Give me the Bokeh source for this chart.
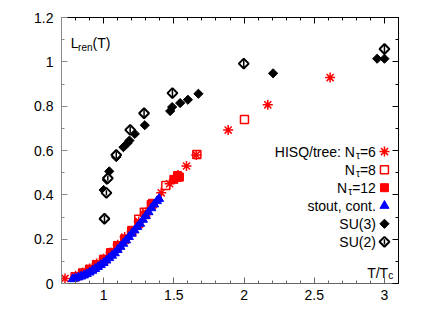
import math
from bokeh.plotting import figure
from bokeh.models import FixedTicker, LinearAxis, Range1d, Label
from bokeh.embed import file_html
from bokeh.resources import INLINE

# ---------------- data ----------------
x_ticks = [1, 1.5, 2, 2.5, 3]
x_tick_labels = ["1", "1.5", "2", "2.5", "3"]
y_ticks = [0, 0.2, 0.4, 0.6, 0.8, 1.0, 1.2]
y_tick_labels = ["0", "0.2", "0.4", "0.6", "0.8", "1", "1.2"]

# HISQ/tree Nt=6 (stars)
hisq6_x = [0.725, 0.80, 0.85, 0.90, 0.95, 1.00, 1.05, 1.10, 1.15, 1.20, 1.25, 1.30, 1.35,
           1.41, 1.47, 1.53, 1.59, 1.66, 1.887, 2.169, 2.613]
hisq6_y = [0.023, 0.035, 0.050, 0.068, 0.090, 0.112, 0.140, 0.175, 0.210, 0.235, 0.280, 0.320, 0.355,
           0.409, 0.450, 0.490, 0.530, 0.580, 0.692, 0.806, 0.929]
# HISQ/tree Nt=8 (open squares)
hisq8_x = [0.797, 0.85, 0.90, 0.95, 1.00, 1.05, 1.10, 1.15, 1.20, 1.25, 1.29, 1.34, 1.443, 1.53, 1.664, 2.003]
hisq8_y = [0.030, 0.045, 0.062, 0.085, 0.105, 0.135, 0.170, 0.200, 0.235, 0.290, 0.321, 0.355, 0.442, 0.480, 0.582, 0.740]
# HISQ/tree Nt=12 (filled squares)
hisq12_x = [0.85, 0.90, 0.95, 1.00, 1.05, 1.10, 1.15, 1.20, 1.25, 1.30, 1.348, 1.50, 1.526, 1.54]
hisq12_y = [0.048, 0.065, 0.085, 0.110, 0.140, 0.170, 0.200, 0.240, 0.270, 0.310, 0.362, 0.470, 0.487, 0.480]
# stout, continuum (triangles)
stout_x = [0.78, 0.80, 0.82, 0.84, 0.86, 0.88, 0.90, 0.92, 0.94, 0.96, 0.98, 1.00, 1.02, 1.04, 1.06, 1.08,
           1.10, 1.12, 1.14, 1.16, 1.18, 1.20, 1.22, 1.24, 1.26, 1.28, 1.30, 1.32, 1.34, 1.36, 1.38, 1.395]
stout_y = [0.020, 0.024, 0.028, 0.032, 0.037, 0.043, 0.050, 0.058, 0.066, 0.075, 0.084, 0.093, 0.104, 0.115,
           0.126, 0.137, 0.152, 0.166, 0.180, 0.195, 0.210, 0.225, 0.240, 0.255, 0.270, 0.288, 0.305, 0.322,
           0.340, 0.357, 0.372, 0.382]
# SU(3) (filled diamonds)
su3_x = [1.00, 1.023, 1.04, 1.09, 1.141, 1.17, 1.184, 1.222, 1.293, 1.474, 1.488, 1.545, 1.60, 1.675,
         2.207, 2.948, 3.00]
su3_y = [0.422, 0.467, 0.506, 0.570, 0.615, 0.633, 0.645, 0.675, 0.714, 0.778, 0.796, 0.814, 0.829, 0.856,
         0.948, 1.014, 1.014]
su3_err = [0.010] * len(su3_x)
# SU(2) (open diamonds)
su2_x = [1.006, 1.02, 1.03, 1.09, 1.189, 1.288, 1.49, 1.998, 3.00]
su2_y = [0.292, 0.409, 0.475, 0.580, 0.693, 0.768, 0.859, 0.992, 1.058]
su2_err = [0.015, 0.012, 0.012, 0.015, 0.015, 0.018, 0.020, 0.018, 0.018]

legend_labels = [("HISQ/tree: N", "\u03c4", "=6"), ("N", "\u03c4", "=8"), ("N", "\u03c4", "=12"),
                 ("stout, cont.",), ("SU(3)",), ("SU(2)",)]

# ---------------- figure ----------------
FONT = "Liberation Sans"
FS = 14
ROT = math.pi / 4

p = figure(width=417, height=305, output_backend="svg", toolbar_location=None,
           x_range=Range1d(0.7, 3.1), y_range=Range1d(0, 1.2),
           min_border_left=61, min_border_right=19, min_border_top=17, min_border_bottom=22)
p.xgrid.visible = False
p.ygrid.visible = False
p.outline_line_color = None
p.background_fill_color = "white"
p.border_fill_color = "white"

x_minor = [round(0.7 + 0.1 * i, 1) for i in range(25)]
y_minor = [round(0.1 * i, 1) for i in range(13)]


def style_axis(ax, color, labels):
    ax.axis_line_color = color
    ax.axis_line_width = 1
    ax.major_tick_line_color = color
    ax.minor_tick_line_color = color
    ax.major_tick_in = 6
    ax.major_tick_out = 0
    ax.minor_tick_in = 3
    ax.minor_tick_out = 0
    if not labels:
        ax.major_label_text_font_size = "0px"
        ax.major_label_text_color = None
        ax.major_label_standoff = 0
    else:
        ax.major_label_text_font = FONT
        ax.major_label_text_font_size = f"{FS}px"
        ax.major_label_text_color = "black"


p.xaxis[0].ticker = FixedTicker(ticks=x_ticks, minor_ticks=x_minor)
p.yaxis[0].ticker = FixedTicker(ticks=y_ticks, minor_ticks=y_minor)
p.xaxis[0].major_label_overrides = {t: s for t, s in zip(x_ticks, x_tick_labels)}
p.yaxis[0].major_label_overrides = {t: s for t, s in zip(y_ticks, y_tick_labels)}
style_axis(p.xaxis[0], "#666666", True)
style_axis(p.yaxis[0], "#8a8a8a", True)
p.xaxis[0].major_label_standoff = 6
p.yaxis[0].major_label_standoff = 8

top = LinearAxis(ticker=FixedTicker(ticks=x_ticks, minor_ticks=x_minor))
style_axis(top, "black", False)
p.add_layout(top, "above")
right = LinearAxis(ticker=FixedTicker(ticks=y_ticks, minor_ticks=y_minor))
style_axis(right, "black", False)
p.add_layout(right, "right")

RED = "#ff0000"
BLUE = "#0000ff"

# error bars
p.segment(x0=su3_x, x1=su3_x, y0=[y - e for y, e in zip(su3_y, su3_err)],
          y1=[y + e for y, e in zip(su3_y, su3_err)], line_color="black", line_width=1.5)

# series
p.scatter(hisq8_x, hisq8_y, marker="square", size=8, fill_color=None, line_color=RED, line_width=1.5)
p.scatter(hisq12_x, hisq12_y, marker="square", size=8, fill_color=RED, line_color=RED)
p.scatter(hisq6_x, hisq6_y, marker="asterisk", size=10, line_color=RED, line_width=1.5)
p.scatter(stout_x, stout_y, marker="triangle", size=9, fill_color=BLUE, line_color=BLUE)
p.scatter(su3_x, su3_y, marker="square", angle=ROT, size=6.5, fill_color="black", line_color="black")
p.scatter(su2_x, su2_y, marker="square", angle=ROT, size=7, fill_color="white", line_color="black",
          line_width=2)
p.segment(x0=su2_x, x1=su2_x, y0=[y - e for y, e in zip(su2_y, su2_err)],
          y1=[y + e for y, e in zip(su2_y, su2_err)], line_color="black", line_width=1.5)

# ---------------- text helpers ----------------
W = {"=": 0.584, "6": 0.556, "8": 0.556, "1": 0.556, "2": 0.556, "L": 0.556, "r": 0.333, "e": 0.556,
     "n": 0.556, "T": 0.611, "/": 0.278, "c": 0.5, "\u03c4": 0.5}


def tw(s, size):
    return sum(W.get(ch, 0.556) for ch in s) * size


def label(x, y, text, xo=0, yo=0, size=FS, align="left", baseline="alphabetic"):
    p.add_layout(Label(x=x, y=y, text=text, x_offset=xo, y_offset=yo, text_font=FONT,
                       text_font_size=f"{size}px", text_align=align, text_baseline=baseline,
                       text_color="black"))


SUB = 10
# y-axis title: L_ren(T)
lx, ly = 0.766, 1.084
label(lx, ly, "L")
label(lx, ly, "ren", xo=tw("L", FS) - 0.5, yo=-4, size=SUB)
label(lx, ly, "(T)", xo=tw("L", FS) + tw("ren", SUB) - 0.5)

# x-axis title: T/T_c
tx, ty = 3.062, 0.048
label(tx, ty, "c", yo=-3, size=SUB, align="right")
label(tx, ty, "T/T", xo=-tw("c", SUB), align="right")

# legend
leg_text_x = 2.939
leg_mark_x = 3.0
leg_y0 = 0.595
leg_dy = 0.0814
leg_styles = [
    dict(marker="asterisk", size=10, line_color=RED, line_width=1.5),
    dict(marker="square", size=8, fill_color=None, line_color=RED, line_width=1.5),
    dict(marker="square", size=8, fill_color=RED, line_color=RED),
    dict(marker="triangle", size=9, fill_color=BLUE, line_color=BLUE),
    dict(marker="square", angle=ROT, size=6.5, fill_color="black", line_color="black"),
    dict(marker="square", angle=ROT, size=7, fill_color="white", line_color="black", line_width=2),
]
for i, (parts, st) in enumerate(zip(legend_labels, leg_styles)):
    yy = leg_y0 - i * leg_dy
    if len(parts) == 3:
        main, sub, tail = parts
        label(leg_text_x, yy, tail, align="right", baseline="middle")
        off = tw(tail, FS)
        label(leg_text_x, yy, sub, xo=-off, yo=-4, size=SUB, align="right", baseline="middle")
        off += tw(sub, SUB)
        label(leg_text_x, yy, main, xo=-off, align="right", baseline="middle")
    else:
        label(leg_text_x, yy, parts[0], align="right", baseline="middle")
    p.scatter([leg_mark_x], [yy], **st)
    if i == 5:
        p.segment(x0=[leg_mark_x], x1=[leg_mark_x], y0=[yy - 0.012], y1=[yy + 0.012],
                  line_color="black", line_width=1.5)

open("out.html", "w").write(file_html(p, INLINE))
